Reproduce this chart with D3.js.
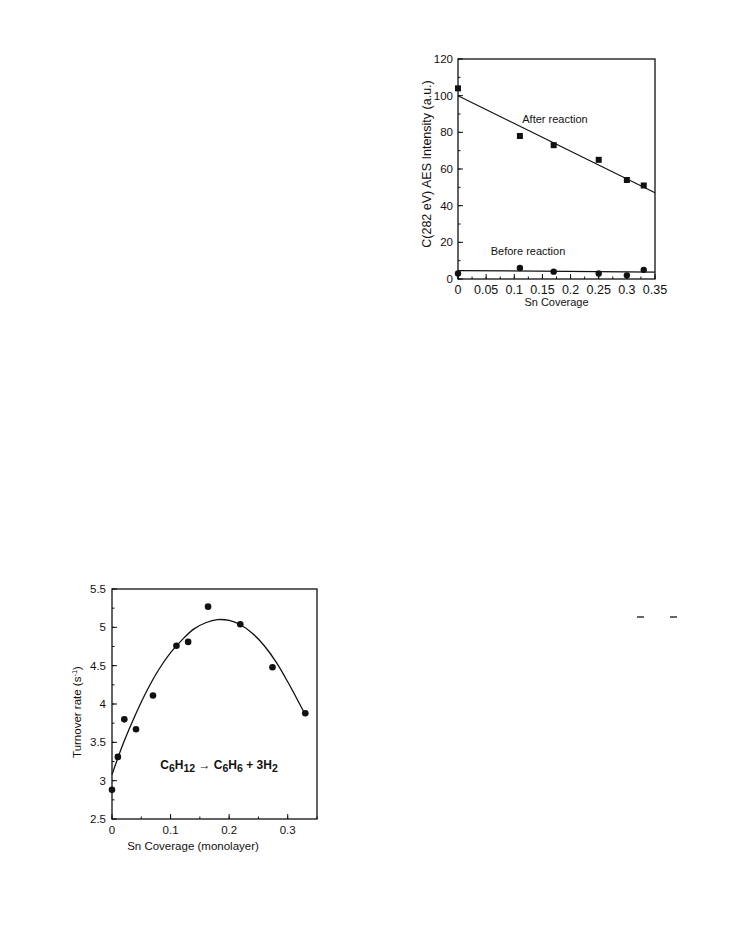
<!DOCTYPE html>
<html><head><meta charset="utf-8">
<script src="https://cdn.jsdelivr.net/npm/d3@7"></script>
<style>body{margin:0;background:#fff}svg{display:block}text{font-family:"Liberation Sans",Arial,sans-serif;fill:#111}</style>
</head><body>
<script>
// ---- Top chart data (C AES intensity vs Sn coverage)
const snCovTop = [0, 0.11, 0.17, 0.25, 0.30, 0.33];
const afterReaction = [104, 78, 73, 65, 54, 51];
const beforeReaction = [3, 6, 4, 3, 2, 5];
const afterFitX = [0, 0.35];
const afterFitY = [100, 47];
const beforeFitX = [0, 0.35];
const beforeFitY = [4.6, 3.8];
const topXTicks = [0, 0.05, 0.1, 0.15, 0.2, 0.25, 0.3, 0.35];
const topYTicks = [0, 20, 40, 60, 80, 100, 120];

// ---- Bottom chart data (turnover rate vs Sn coverage)
const snCovBot = [0, 0.01, 0.021, 0.041, 0.070, 0.110, 0.130, 0.164, 0.219, 0.274, 0.330];
const turnover = [2.88, 3.31, 3.80, 3.67, 4.11, 4.76, 4.81, 5.27, 5.04, 4.48, 3.88];
const curveX = [0, 0.02, 0.04, 0.06, 0.08, 0.10, 0.12, 0.14, 0.16, 0.18, 0.20, 0.22, 0.24, 0.26, 0.28, 0.30, 0.33];
const curveY = [3.08, 3.50, 3.86, 4.18, 4.45, 4.67, 4.84, 4.98, 5.06, 5.10, 5.09, 5.03, 4.92, 4.76, 4.55, 4.29, 3.86];
const botXTicks = [0, 0.1, 0.2, 0.3];
const botYTicks = [2.5, 3, 3.5, 4, 4.5, 5, 5.5];

const svg = d3.select("body").append("svg").attr("width", 735).attr("height", 936);
const fmt = d => String(d);

function frame(g, x, y) {
  const [x0, x1] = x.range(), [y0, y1] = y.range();
  g.append("rect").attr("x", x0).attr("y", y1).attr("width", x1 - x0).attr("height", y0 - y1)
    .attr("fill", "none").attr("stroke", "#111").attr("stroke-width", 1.3);
}
function ticksX(g, x, y, majors, minorStep, labelY, fs) {
  const y0 = y.range()[0];
  const [d0, d1] = x.domain();
  const minors = d3.range(d0, d1 + 1e-9, minorStep);
  g.selectAll(null).data(minors).enter().append("line")
    .attr("x1", d => x(d)).attr("x2", d => x(d)).attr("y1", y0).attr("y2", y0 - 2.5)
    .attr("stroke", "#111").attr("stroke-width", 1);
  g.selectAll(null).data(majors).enter().append("line")
    .attr("x1", d => x(d)).attr("x2", d => x(d)).attr("y1", y0).attr("y2", y0 - 5)
    .attr("stroke", "#111").attr("stroke-width", 1);
  g.selectAll(null).data(majors).enter().append("text")
    .attr("x", d => x(d)).attr("y", labelY).attr("text-anchor", "middle")
    .attr("font-size", fs).text(fmt);
}
function ticksY(g, x, y, majors, minorStep, labelX, fs) {
  const x0 = x.range()[0];
  const [d0, d1] = y.domain();
  const minors = d3.range(d0, d1 + 1e-9, minorStep);
  g.selectAll(null).data(minors).enter().append("line")
    .attr("x1", x0).attr("x2", x0 + 2.5).attr("y1", d => y(d)).attr("y2", d => y(d))
    .attr("stroke", "#111").attr("stroke-width", 1);
  g.selectAll(null).data(majors).enter().append("line")
    .attr("x1", x0).attr("x2", x0 + 5).attr("y1", d => y(d)).attr("y2", d => y(d))
    .attr("stroke", "#111").attr("stroke-width", 1);
  g.selectAll(null).data(majors).enter().append("text")
    .attr("x", labelX).attr("y", d => y(d) + 4).attr("text-anchor", "end")
    .attr("font-size", fs).text(fmt);
}

// ===== Top chart
{
  const g = svg.append("g");
  const x = d3.scaleLinear().domain([0, 0.35]).range([458, 655]);
  const y = d3.scaleLinear().domain([0, 120]).range([279, 59]);
  const line = d3.line().x(d => x(d[0])).y(d => y(d[1]));
  g.append("path").attr("d", line(d3.zip(afterFitX, afterFitY))).attr("fill", "none").attr("stroke", "#111").attr("stroke-width", 1.2);
  g.append("path").attr("d", line(d3.zip(beforeFitX, beforeFitY))).attr("fill", "none").attr("stroke", "#111").attr("stroke-width", 1.2);
  g.selectAll(null).data(d3.zip(snCovTop, afterReaction)).enter().append("rect")
    .attr("x", d => x(d[0]) - 3).attr("y", d => y(d[1]) - 3).attr("width", 6).attr("height", 6).attr("fill", "#111");
  g.selectAll(null).data(d3.zip(snCovTop, beforeReaction)).enter().append("circle")
    .attr("cx", d => x(d[0])).attr("cy", d => y(d[1])).attr("r", 3.2).attr("fill", "#111");
  frame(g, x, y);
  ticksX(g, x, y, topXTicks, 0.025, 294, 12.5);
  ticksY(g, x, y, topYTicks, 10, 453, 11.5);
  g.append("text").attr("x", x(0.175)).attr("y", 306).attr("text-anchor", "middle").attr("font-size", 11).text("Sn Coverage");
  g.append("text").attr("transform", "translate(431,164) rotate(-90)").attr("text-anchor", "middle").attr("font-size", 12.5).text("C(282 eV) AES Intensity (a.u.)");
  g.append("text").attr("x", 555).attr("y", 123).attr("text-anchor", "middle").attr("font-size", 11).text("After reaction");
  g.append("text").attr("x", 528).attr("y", 255).attr("text-anchor", "middle").attr("font-size", 11).text("Before reaction");
}

// ===== Bottom chart
{
  const g = svg.append("g");
  const x = d3.scaleLinear().domain([0, 0.35]).range([112, 317]);
  const y = d3.scaleLinear().domain([2.5, 5.5]).range([819, 589]);
  const line = d3.line().x(d => x(d[0])).y(d => y(d[1])).curve(d3.curveCatmullRom);
  g.append("path").attr("d", line(d3.zip(curveX, curveY))).attr("fill", "none").attr("stroke", "#111").attr("stroke-width", 1.3);
  g.selectAll(null).data(d3.zip(snCovBot, turnover)).enter().append("circle")
    .attr("cx", d => x(d[0])).attr("cy", d => y(d[1])).attr("r", 3.3).attr("fill", "#111");
  frame(g, x, y);
  ticksX(g, x, y, botXTicks, 0.05, 834, 11.5);
  ticksY(g, x, y, botYTicks, 0.25, 106, 11.5);
  g.append("text").attr("x", 193).attr("y", 850).attr("text-anchor", "middle").attr("font-size", 11.5).text("Sn Coverage (monolayer)");
  const yl = g.append("text").attr("transform", "translate(81,712) rotate(-90)").attr("text-anchor", "middle").attr("font-size", 11.5);
  yl.append("tspan").text("Turnover rate (s");
  yl.append("tspan").attr("font-size", 7.5).attr("dy", -4).text("-1");
  yl.append("tspan").attr("dy", 4).text(")");
  const eq = g.append("text").attr("x", 219).attr("y", 769).attr("text-anchor", "middle").attr("font-size", 12).attr("font-weight", "bold");
  eq.append("tspan").text("C");
  eq.append("tspan").attr("dy", 3).attr("font-size", 10.5).text("6");
  eq.append("tspan").attr("dy", -3).text("H");
  eq.append("tspan").attr("dy", 3).attr("font-size", 10.5).text("12");
  eq.append("tspan").attr("dy", -3).text(" \u2192 C");
  eq.append("tspan").attr("dy", 3).attr("font-size", 10.5).text("6");
  eq.append("tspan").attr("dy", -3).text("H");
  eq.append("tspan").attr("dy", 3).attr("font-size", 10.5).text("6");
  eq.append("tspan").attr("dy", -3).text(" + 3H");
  eq.append("tspan").attr("dy", 3).attr("font-size", 10.5).text("2");
}

// stray marks at right
const dashX = [[637, 644], [670, 677]];
svg.selectAll(null).data(dashX).enter().append("line")
  .attr("x1", d => d[0]).attr("x2", d => d[1]).attr("y1", 617).attr("y2", 617)
  .attr("stroke", "#333").attr("stroke-width", 1.5);
</script>
</body></html>
